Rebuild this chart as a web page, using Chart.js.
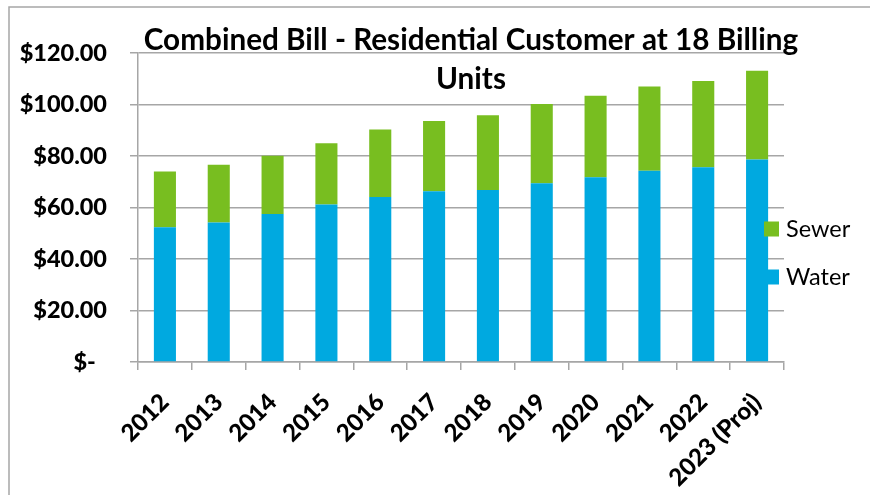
<!DOCTYPE html>
<html>
<head>
<meta charset="utf-8">
<script src="https://cdn.jsdelivr.net/npm/chart.js@4/dist/chart.umd.min.js"></script>
<style>
  body { margin: 0; background: #fff; }
  #wrap { position: relative; width: 870px; height: 495px; }
</style>
</head>
<body>
<div id="wrap"><canvas id="BillChart" width="870" height="495"></canvas></div>
<script>
// chart data
const years = ['2012', '2013', '2014', '2015', '2016', '2017', '2018', '2019', '2020', '2021', '2022', '2023 (Proj)'];
const water = [52.3, 54.2, 57.5, 61.2, 64.1, 66.3, 66.8, 69.4, 71.7, 74.3, 75.6, 78.6];
const sewer = [21.7, 22.4, 22.6, 23.8, 26.2, 27.3, 29.0, 30.8, 31.7, 32.7, 33.5, 34.5];
const yTickLabels = ['$-  ', '$20.00', '$40.00', '$60.00', '$80.00', '$100.00', '$120.00'];
const titleLines = ['Combined Bill - Residential Customer at 18 Billing', 'Units'];

const FONT = 'Lato, "Open Sans", sans-serif';
const GRID = '#a6a6a6';

// title, legend and frame are drawn over the chart like Excel does
const overlayPlugin = {
    id: 'overlay',
    beforeDraw(chart) {
        const ctx = chart.ctx;
        ctx.save();
        ctx.strokeStyle = GRID;
        ctx.lineWidth = 1.5;
        ctx.beginPath();
        ctx.moveTo(9, 500);
        ctx.lineTo(9, 7);
        ctx.lineTo(880, 7);
        ctx.stroke();
        ctx.restore();
    },
    afterDraw(chart) {
        const ctx = chart.ctx;
        ctx.save();
        ctx.fillStyle = '#000';
        ctx.textAlign = 'center';
        ctx.textBaseline = 'alphabetic';
        ctx.font = 'bold 29.7px ' + FONT;
        ctx.fillText(titleLines[0], 471, 50);
        ctx.fillText(titleLines[1], 471, 89);

        // legend: Sewer on top, Water below
        const items = [chart.data.datasets[1], chart.data.datasets[0]];
        ctx.textAlign = 'left';
        ctx.textBaseline = 'middle';
        ctx.font = '23.5px ' + FONT;
        items.forEach((ds, i) => {
            const y = 229 + i * 48;
            ctx.fillStyle = ds.backgroundColor;
            ctx.fillRect(764, y - 7.5, 15, 15);
            ctx.fillStyle = '#000';
            ctx.fillText(ds.label, 786, y);
        });
        ctx.restore();
    }
};

const ctx = document.getElementById('BillChart').getContext('2d');
new Chart(ctx, {
    type: 'bar',
    data: {
        labels: years,
        datasets: [{
            label: 'Water',
            data: water,
            backgroundColor: '#00a9e0',
            categoryPercentage: 1,
            barPercentage: 0.41
        }, {
            label: 'Sewer',
            data: sewer,
            backgroundColor: '#78be20',
            categoryPercentage: 1,
            barPercentage: 0.41
        }]
    },
    options: {
        responsive: false,
        animation: false,
        layout: {
            padding: { top: 53, right: 86, left: 0, bottom: 0 }
        },
        plugins: {
            legend: { display: false },
            title: { display: false },
            tooltip: { enabled: false }
        },
        scales: {
            x: {
                stacked: true,
                grid: {
                    drawOnChartArea: false,
                    tickLength: 8,
                    color: GRID,
                    lineWidth: 1.5
                },
                border: { color: GRID, width: 1.5 },
                ticks: {
                    maxRotation: 45,
                    minRotation: 45,
                    padding: 18,
                    color: '#000',
                    font: { family: FONT, size: 24, weight: '900' }
                },
                afterFit(scale) {
                    scale.height = 133;
                }
            },
            y: {
                stacked: true,
                min: 0,
                max: 120,
                grid: {
                    tickLength: 8,
                    color: GRID,
                    lineWidth: 1.5
                },
                border: { color: GRID, width: 1.5 },
                ticks: {
                    stepSize: 20,
                    padding: 23,
                    color: '#000',
                    font: { family: FONT, size: 23.5, weight: '900' },
                    callback: (value, index) => yTickLabels[index]
                },
                afterFit(scale) {
                    scale.width = 138;
                }
            }
        }
    },
    plugins: [overlayPlugin]
});
</script>
</body>
</html>
